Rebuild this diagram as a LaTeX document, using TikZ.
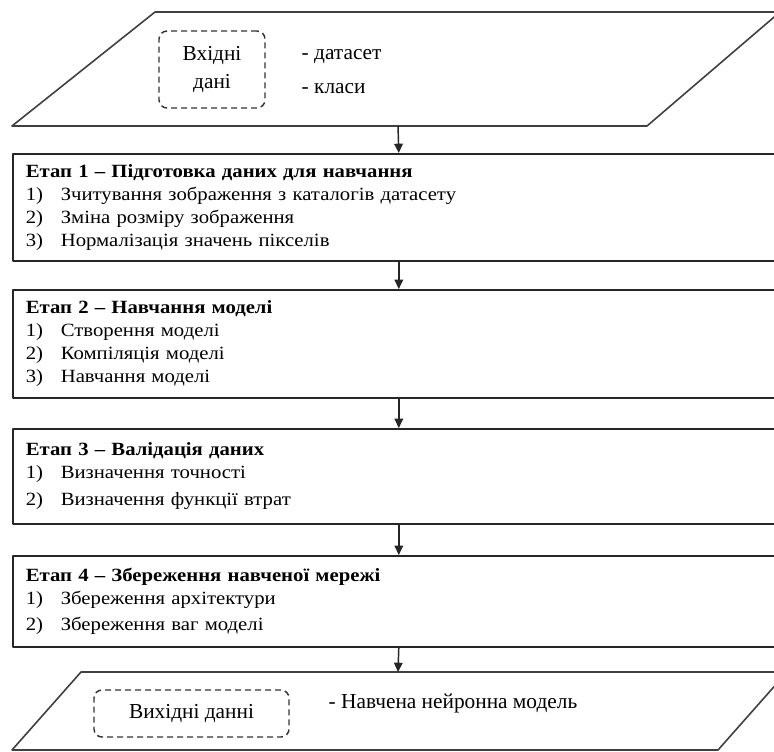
\documentclass[tikz,border=0pt]{standalone}
\usepackage{fontspec}
\setmainfont{Liberation Serif}
\newfontfamily\stagefont[FakeStretch=1.11]{Liberation Serif}
\usetikzlibrary{arrows.meta}
\newcommand{\itm}[1]{\makebox[26.25pt][l]{#1}}

\begin{document}
\begin{tikzpicture}[x=0.75pt,y=-0.75pt,line join=round,every node/.style={inner sep=1.1pt},
  stagebox/.style={draw=black!85,line width=1.2pt,anchor=north west,minimum width=579pt,
    text width=559.5pt,inner xsep=9.75pt,align=left,font=\stagefont\fontsize{14}{17.25}\selectfont},
  databox/.style={draw=black!80,line width=1.1pt,dash pattern=on 4.5pt off 3pt,rounded corners=6pt,
    align=center,font=\fontsize{16}{21}\selectfont},
  flow/.style={-{Triangle[width=6.5pt,length=7pt]},line width=1.1pt,draw=black!85},
  note/.style={anchor=west,font=\fontsize{16}{19}\selectfont}]
  \useasboundingbox (0,0) rectangle (774,751);
  \clip (0,0) rectangle (774,751);
  % вхідні дані
  \draw[line width=1.2pt,draw=black!75] (155,12) -- (780,12) -- (647,126) -- (12,126) -- cycle;
  \coordinate (I) at (398,126);
  \node[databox,minimum width=79.5pt,minimum height=57.75pt] (Din) at (212,69.5) {Вхідні\\дані};
  \node[note] (N1) at (300,57) {- датасет};
  \node[note] (N2) at (300,89) {- класи};
  % етапи
  \node[stagebox,minimum height=80.25pt] (E1) at (12,153) {%
    \textbf{Етап 1 – Підготовка даних для навчання}\\
    \itm{1)}Зчитування зображення з каталогів датасету\\
    \itm{2)}Зміна розміру зображення\\
    \itm{3)}Нормалізація значень пікселів};
  \node[stagebox,minimum height=81pt] (E2) at (12,289) {%
    \textbf{Етап 2 – Навчання моделі}\\
    \itm{1)}Створення моделі\\
    \itm{2)}Компіляція моделі\\
    \itm{3)}Навчання моделі};
  \node[stagebox,minimum height=71.25pt] (E3) at (12,428) {%
    \textbf{Етап 3 – Валідація даних}\\
    \itm{1)}Визначення точності\\[3pt]
    \itm{2)}Визначення функції втрат};
  \node[stagebox,minimum height=68.25pt] (E4) at (12,555) {%
    \textbf{Етап 4 – Збереження навченої мережі}\\
    \itm{1)}Збереження архітектури\\[2.5pt]
    \itm{2)}Збереження ваг моделі};
  % вихідні дані
  \draw[line width=1.2pt,draw=black!75] (81,672) -- (787,672) -- (718,750) -- (12,750) -- cycle;
  \coordinate (V) at (398,672);
  \node[databox,minimum width=146.25pt,minimum height=35.25pt] (Dout) at (191.5,713.5) {Вихідні данні};
  \node[note] (N3) at (327,703) {- Навчена нейронна модель};
  \draw[flow] (I) -- (E1.north);
  \draw[flow] (E1) -- (E2);
  \draw[flow] (E2) -- (E3);
  \draw[flow] (E3) -- (E4);
  \draw[flow] (E4.south) -- (V);
\end{tikzpicture}
\end{document}
